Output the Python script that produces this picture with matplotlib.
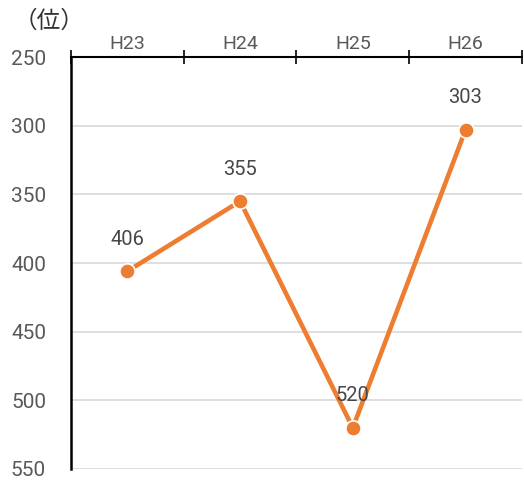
import matplotlib.pyplot as plt

years = ["H23", "H24", "H25", "H26"]
ranks = [406, 355, 520, 303]
yticks = [250, 300, 350, 400, 450, 500, 550]

plt.rcParams['font.family'] = ['Roboto', 'Noto Sans CJK JP', 'DejaVu Sans']

fig = plt.figure(figsize=(5.24, 4.82), dpi=100)
ax = fig.add_axes([0.1355, 0.027, 0.8605, 0.8547])

x = range(len(years))
ax.plot(x, ranks, color='#ED7D31', linewidth=3.3, marker='o', markersize=11,
        markeredgecolor='white', markeredgewidth=1.2, zorder=3)
for xi, v in zip(x, ranks):
    ax.annotate(str(v), (xi, v), xytext=(0, 23), textcoords='offset points',
                ha='center', va='center', fontsize=14.5, color='#474747')

ax.set_xlim(-0.5, len(years) - 0.5)
ax.set_ylim(550, 250)
ax.set_yticks(yticks)
ax.yaxis.grid(True, color='#d9d9d9', linewidth=1.2)
ax.set_axisbelow(True)

ax.xaxis.tick_top()
ax.set_xticks([i - 0.5 for i in range(len(years) + 1)], minor=False)
ax.set_xticklabels([])
ax.set_xticks(list(x), minor=True)
ax.set_xticklabels(years, minor=True)
ax.tick_params(axis='x', which='major', direction='inout', length=10, width=1.2, color='black')
ax.tick_params(axis='x', which='minor', length=0, labelsize=14, labelcolor='#595959', pad=3)
ax.tick_params(axis='y', length=0, labelsize=15, labelcolor='#595959', pad=18)

for s in ['right', 'bottom']:
    ax.spines[s].set_visible(False)
ax.spines['top'].set_linewidth(1.5)
ax.spines['left'].set_linewidth(1.8)

fig.text(0.025, 0.955, "（位）", fontsize=17, color='#333333', va='center',
         family=['Noto Sans CJK JP', 'DejaVu Sans'])

fig.savefig("out.png", dpi=100)
